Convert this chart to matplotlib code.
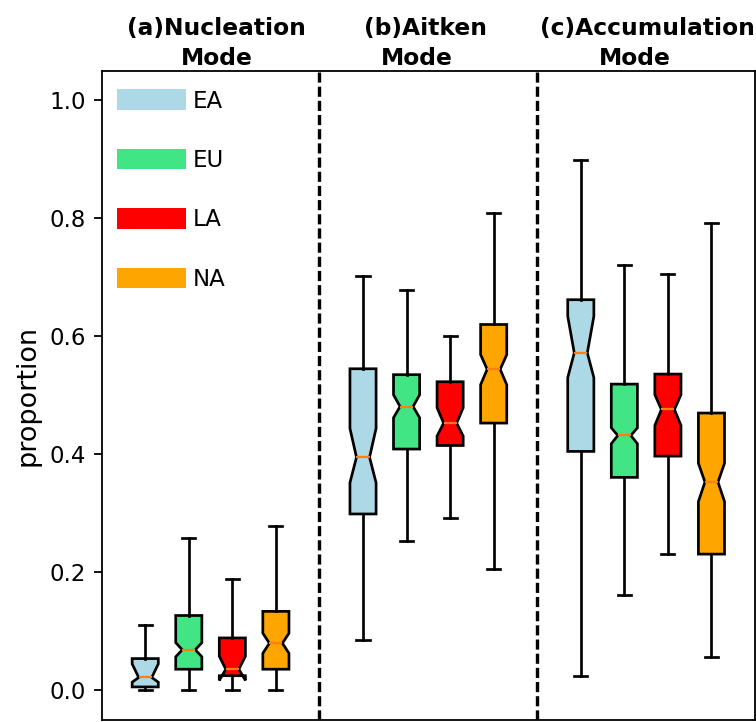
import matplotlib.pyplot as plt
from matplotlib.patches import Patch
from matplotlib.transforms import blended_transform_factory

regions = ['EA', 'EU', 'LA', 'NA']
colors = ['lightblue', '#42e584', 'red', 'orange']

# rows follow regions; columns: whislo, q1, cilo, med, cihi, q3, whishi
nucleation = [
    [0.000, 0.006, 0.014, 0.022, 0.045, 0.054, 0.111],
    [0.001, 0.036, 0.057, 0.069, 0.081, 0.127, 0.258],
    [0.001, 0.025, 0.017, 0.036, 0.058, 0.089, 0.189],
    [0.000, 0.036, 0.063, 0.080, 0.097, 0.134, 0.279],
]
aitken = [
    [0.086, 0.299, 0.352, 0.395, 0.444, 0.545, 0.702],
    [0.253, 0.409, 0.462, 0.481, 0.501, 0.535, 0.679],
    [0.292, 0.415, 0.431, 0.453, 0.479, 0.523, 0.600],
    [0.205, 0.453, 0.518, 0.544, 0.569, 0.620, 0.809],
]
accumulation = [
    [0.024, 0.405, 0.530, 0.572, 0.634, 0.662, 0.899],
    [0.161, 0.361, 0.418, 0.432, 0.445, 0.519, 0.721],
    [0.232, 0.397, 0.449, 0.476, 0.501, 0.536, 0.705],
    [0.057, 0.231, 0.320, 0.353, 0.385, 0.470, 0.792],
]
titles = ['(a)Nucleation', '(b)Aitken', '(c)Accumulation']

keys = ['whislo', 'q1', 'cilo', 'med', 'cihi', 'q3', 'whishi']

fig = plt.figure(figsize=(756 / 162, 722 / 162), dpi=162)
ax = fig.add_axes([0.1345, 0.0028, 0.8642, 0.8993])

for m, mode in enumerate([nucleation, aitken, accumulation]):
    stats = []
    for row in mode:
        d = dict(zip(keys, row))
        d['fliers'] = []
        stats.append(d)
    pos = [5 * m + 1 + i for i in range(4)]
    bp = ax.bxp(stats, positions=pos, widths=0.6, shownotches=True,
                patch_artist=True, showfliers=False,
                boxprops=dict(edgecolor='black', linewidth=1.2),
                whiskerprops=dict(linewidth=1.2),
                capprops=dict(linewidth=1.2),
                medianprops=dict(color='#ff7f0e', linewidth=1.0))
    for patch, c in zip(bp['boxes'], colors):
        patch.set_facecolor(c)

# separators between the three modes
for x in [5, 10]:
    ax.axvline(x, color='black', linewidth=1.5, linestyle=(0, (3.0, 1.2)))

ax.set_xlim(0, 15)
ax.set_ylim(-0.05, 1.05)
ax.set_xticks([])
ax.set_yticks([0.0, 0.2, 0.4, 0.6, 0.8, 1.0])
ax.tick_params(axis='y', labelsize=10.2)
ax.set_ylabel('proportion', fontsize=12)

trans = blended_transform_factory(ax.transData, ax.transAxes)
for t, x1, x2 in zip(titles, [2.64, 7.44, 12.52], [2.64, 7.23, 12.23]):
    ax.text(x1, 1.055, t, transform=trans, ha='center', va='baseline',
            fontsize=10.4, fontweight='bold')
    ax.text(x2, 1.0088, 'Mode', transform=trans, ha='center', va='baseline',
            fontsize=10.4, fontweight='bold')

handles = [Patch(facecolor=c, edgecolor='none', label=r) for c, r in zip(colors, regions)]
ax.legend(handles=handles, loc='upper left', bbox_to_anchor=(-0.008, 1.003),
          frameon=False, handlelength=3.0, handleheight=1.0,
          labelspacing=1.58, handletextpad=0.3, fontsize=10.2)

fig.savefig('out.png', dpi=162)
